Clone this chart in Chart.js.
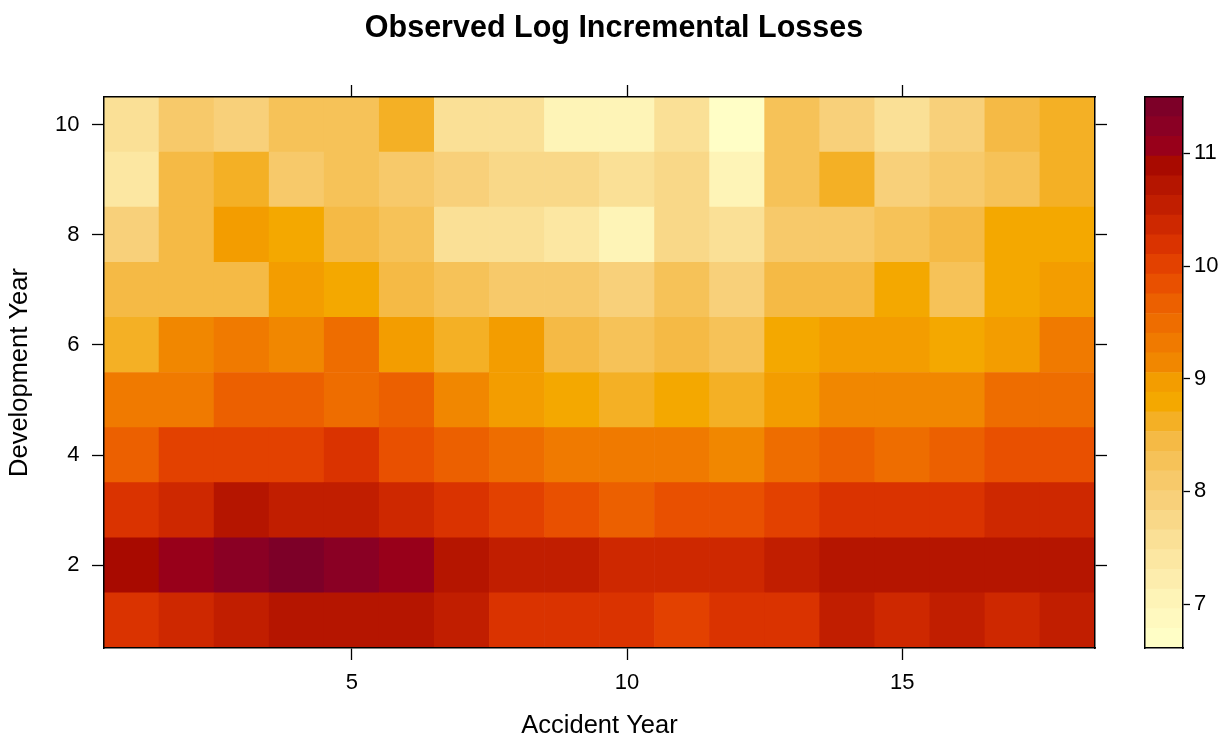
<!DOCTYPE html>
<html>
<head>
<meta charset="utf-8">
<title>Observed Log Incremental Losses</title>
<script src="https://cdn.jsdelivr.net/npm/chart.js@4.4.1/dist/chart.umd.min.js"></script>
<style>
  html, body { margin: 0; padding: 0; background: #ffffff; overflow: hidden; }
  #wrap { position: relative; width: 1228px; height: 736px; }
  #main { position: absolute; left: 0; top: 0; }
  #key { position: absolute; left: 1140px; top: 0; }
</style>
</head>
<body>
<div id="wrap">
  <canvas id="main" width="1228" height="736"></canvas>
  <canvas id="key" width="88" height="736"></canvas>
</div>
<script>
// Accident years (columns) and development years (rows)
const accidentYears = [1, 2, 3, 4, 5, 6, 7, 8, 9, 10, 11, 12, 13, 14, 15, 16, 17, 18];
const developmentYears = [1, 2, 3, 4, 5, 6, 7, 8, 9, 10];

// Log incremental losses, one array per development year (accident years 1..18)
const dev1  = [10.19, 10.36, 10.54, 10.71, 10.71, 10.71, 10.54, 10.19, 10.19, 10.19, 10.02, 10.19, 10.19, 10.54, 10.36, 10.54, 10.36, 10.54];
const dev2  = [10.89, 11.06, 11.24, 11.50, 11.24, 11.06, 10.71, 10.54, 10.54, 10.36, 10.36, 10.36, 10.54, 10.71, 10.71, 10.71, 10.71, 10.71];
const dev3  = [10.19, 10.36, 10.71, 10.54, 10.54, 10.36, 10.19, 10.02, 9.84, 9.67, 9.84, 9.84, 10.02, 10.19, 10.19, 10.19, 10.36, 10.36];
const dev4  = [9.67, 10.02, 10.02, 10.02, 10.19, 9.84, 9.67, 9.49, 9.32, 9.32, 9.32, 9.14, 9.49, 9.67, 9.49, 9.67, 9.84, 9.84];
const dev5  = [9.32, 9.32, 9.67, 9.67, 9.49, 9.67, 9.14, 8.97, 8.79, 8.62, 8.79, 8.62, 8.97, 9.14, 9.14, 9.14, 9.49, 9.49];
const dev6  = [8.62, 9.14, 9.32, 9.14, 9.49, 8.97, 8.62, 8.97, 8.44, 8.27, 8.44, 8.27, 8.79, 8.97, 8.97, 8.79, 8.97, 9.32];
const dev7  = [8.44, 8.44, 8.44, 8.97, 8.79, 8.44, 8.27, 8.09, 8.09, 7.92, 8.27, 7.92, 8.44, 8.44, 8.79, 8.27, 8.79, 8.97];
const dev8  = [7.92, 8.44, 8.97, 8.79, 8.44, 8.27, 7.57, 7.57, 7.40, 7.05, 7.75, 7.57, 8.09, 8.09, 8.27, 8.44, 8.79, 8.79];
const dev9  = [7.40, 8.44, 8.62, 8.09, 8.27, 8.09, 7.92, 7.75, 7.75, 7.57, 7.75, 7.05, 8.27, 8.62, 7.92, 8.09, 8.27, 8.62];
const dev10 = [7.57, 8.09, 7.92, 8.27, 8.27, 8.62, 7.57, 7.57, 7.05, 7.05, 7.57, 6.61, 8.27, 7.92, 7.57, 7.92, 8.44, 8.62];

// Tick labels
const xTicks = [5, 10, 15];
const yTicks = [2, 4, 6, 8, 10];
const keyTicks = [7, 8, 9, 10, 11];

// Sequential yellow-orange-red colour regions, light to dark
const palette = [
  '#FFFEC6', '#FFF9BF', '#FEF4B7', '#FDEDAD', '#FCE7A2', '#FAE096', '#F9D888',
  '#F8D07A', '#F7C96A', '#F6C258', '#F5BA45', '#F4B025', '#F4A800', '#F39D00',
  '#F18700', '#F07A00', '#EE6D00', '#EC6000', '#E95000', '#E34100', '#DA3300',
  '#CE2800', '#C11E00', '#B51500', '#A80A00', '#98001A', '#8A0024', '#7D0028'
];

const rows = [dev1, dev2, dev3, dev4, dev5, dev6, dev7, dev8, dev9, dev10];
const allValues = rows.flat();
const zMin = Math.min(...allValues);
const zMax = Math.max(...allValues);
const nBins = palette.length;
const binWidth = (zMax - zMin) / nBins;

function colourFor(v) {
  let i = Math.floor((v - zMin) / binWidth);
  if (i < 0) i = 0;
  if (i >= nBins) i = nBins - 1;
  return palette[i];
}

const FONT = "'Liberation Sans', Arial, Helvetica, sans-serif";
Chart.defaults.font.family = FONT;
Chart.defaults.color = '#000000';

const TICK_FONT = { family: FONT, size: 22 };
const LABEL_FONT = { family: FONT, size: 25.5, lineHeight: 1 };
const frame = { display: true, color: '#000000', width: 1.5, z: 1 };

function tickGrid(len) {
  return { display: true, drawOnChartArea: false, drawTicks: len > 0, tickLength: len,
           tickColor: '#000000', tickWidth: 1.3, color: '#000000', offset: false };
}
function fixTicks(values) {
  return (scale) => { scale.ticks = values.map(v => ({ value: v })); };
}

// ---- Heat map: one floating bar per cell ----
const cellDatasets = developmentYears.map((d, r) => ({
  label: 'Development ' + d,
  xAxisID: 'x',
  yAxisID: 'y',
  data: accidentYears.map((a) => ({ x: a, y: [d - 0.5, d + 0.5] })),
  backgroundColor: rows[r].map(colourFor),
  borderWidth: 0,
  grouped: false,
  barPercentage: 1,
  categoryPercentage: 1
}));

const TITLE_SIZE = 30.5;
const TITLE_PAD_TOP = 13;

new Chart(document.getElementById('main'), {
  type: 'bar',
  data: { datasets: cellDatasets },
  options: {
    responsive: false,
    animation: false,
    events: [],
    layout: { padding: 0 },
    plugins: {
      legend: { display: false },
      tooltip: { enabled: false },
      title: {
        display: true,
        text: 'Observed Log Incremental Losses',
        color: '#000000',
        font: { family: FONT, size: TITLE_SIZE, weight: 'bold', lineHeight: 1 },
        padding: { top: TITLE_PAD_TOP, bottom: 0 }
      }
    },
    scales: {
      x: {
        type: 'linear', position: 'bottom', min: 0.5, max: 18.5, offset: false,
        grid: tickGrid(12), border: frame,
        ticks: { color: '#000000', font: TICK_FONT, padding: 9.5, maxRotation: 0, autoSkip: false },
        afterBuildTicks: fixTicks(xTicks),
        afterFit: (s) => { s.height = 88; },
        title: { display: true, text: 'Accident Year', color: '#000000', font: LABEL_FONT,
                 padding: { top: 0, bottom: -3 } }
      },
      xTop: {
        type: 'linear', position: 'top', min: 0.5, max: 18.5, offset: false,
        grid: tickGrid(12), border: frame,
        ticks: { display: false },
        afterBuildTicks: fixTicks(xTicks),
        afterFit: (s) => { s.height = 97 - (TITLE_SIZE + TITLE_PAD_TOP); }
      },
      y: {
        type: 'linear', position: 'left', min: 0.5, max: 10.5,
        grid: tickGrid(12), border: frame,
        ticks: { color: '#000000', font: TICK_FONT, padding: 12.5 },
        afterBuildTicks: fixTicks(yTicks),
        afterFit: (s) => { s.width = 104; },
        title: { display: true, text: 'Development Year', color: '#000000', font: LABEL_FONT,
                 padding: { top: 7.5, bottom: 0 } }
      },
      yRight: {
        type: 'linear', position: 'right', min: 0.5, max: 10.5,
        grid: tickGrid(12), border: frame,
        ticks: { display: false },
        afterBuildTicks: fixTicks(yTicks),
        afterFit: (s) => { s.width = 1228 - 1095; }
      }
    }
  }
});

// ---- Colour key: one floating bar per colour region ----
const keyDatasets = palette.map((c, i) => ({
  label: 'region ' + (i + 1),
  xAxisID: 'x',
  yAxisID: 'y',
  data: [{ x: 0, y: [zMin + i * binWidth, zMin + (i + 1) * binWidth] }],
  backgroundColor: c,
  borderWidth: 0,
  grouped: false,
  barPercentage: 1,
  categoryPercentage: 1
}));

new Chart(document.getElementById('key'), {
  type: 'bar',
  data: { datasets: keyDatasets },
  options: {
    responsive: false,
    animation: false,
    events: [],
    layout: { padding: 0 },
    plugins: { legend: { display: false }, tooltip: { enabled: false }, title: { display: false } },
    scales: {
      x: {
        type: 'linear', position: 'bottom', min: -0.5, max: 0.5, offset: false,
        grid: tickGrid(0), border: frame, ticks: { display: false },
        afterBuildTicks: fixTicks([0]),
        afterFit: (s) => { s.height = 88; }
      },
      xTop: {
        type: 'linear', position: 'top', min: -0.5, max: 0.5, offset: false,
        grid: tickGrid(0), border: frame, ticks: { display: false },
        afterBuildTicks: fixTicks([0]),
        afterFit: (s) => { s.height = 97; }
      },
      yLeft: {
        type: 'linear', position: 'left', min: zMin, max: zMax,
        grid: tickGrid(0), border: frame, ticks: { display: false },
        afterBuildTicks: fixTicks([]),
        afterFit: (s) => { s.width = 5; }
      },
      y: {
        type: 'linear', position: 'right', min: zMin, max: zMax,
        grid: tickGrid(7), border: frame,
        ticks: { color: '#000000', font: TICK_FONT, padding: 4 },
        afterBuildTicks: fixTicks(keyTicks),
        afterFit: (s) => { s.width = 45; }
      }
    }
  }
});
</script>
</body>
</html>
